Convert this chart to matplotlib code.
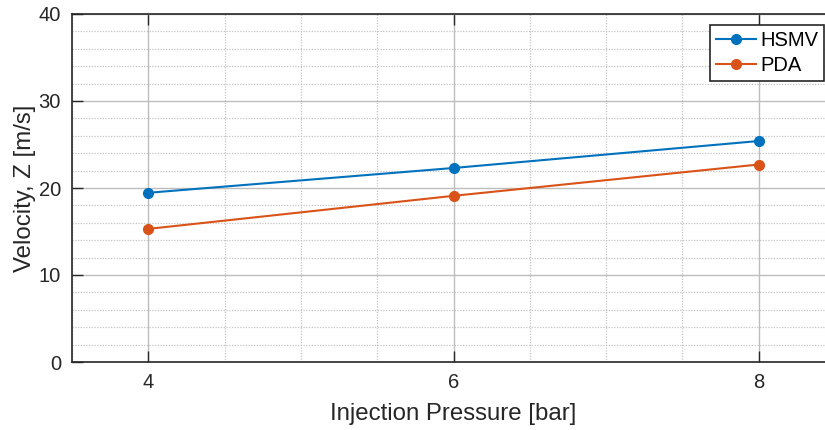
import matplotlib
matplotlib.use("Agg")
import matplotlib.pyplot as plt
from matplotlib.ticker import MultipleLocator

pressure = [4, 6, 8]
hsmv = [19.45, 22.3, 25.4]
pda = [15.3, 19.1, 22.7]
xticks = [4, 6, 8]
yticks = [0, 10, 20, 30, 40]

plt.rcParams['font.family'] = ['Liberation Sans', 'DejaVu Sans']

W, H = 825, 430
fig = plt.figure(figsize=(W / 100, H / 100), dpi=100)
left, right, top, bottom = 72, 835, 14, 362
ax = fig.add_axes([left / W, 1 - bottom / H, (right - left) / W, (bottom - top) / H])

blue = '#0072BD'
orange = '#D95319'
ax.plot(pressure, hsmv, '-o', color=blue, lw=1.5, ms=7, label='HSMV', zorder=3)
ax.plot(pressure, pda, '-o', color=orange, lw=1.5, ms=7, label='PDA', zorder=3)

ax.set_xlim(3.5, 8.5)
ax.set_ylim(0, 40)
ax.set_xticks(xticks)
ax.set_yticks(yticks)
ax.xaxis.set_minor_locator(MultipleLocator(0.5))
ax.yaxis.set_minor_locator(MultipleLocator(2))

ax.grid(True, which='major', color='#bdbdbd', lw=1.0, ls='-', zorder=0)
ax.grid(True, which='minor', color='#c4c4c4', lw=0.9, ls=(0, (1, 1.2)), zorder=0)
ax.set_axisbelow(True)

ax.tick_params(which='major', direction='in', length=8, width=1.0, color='#262626',
               labelsize=14.5, labelcolor='#262626', top=True, right=False, pad=8)
ax.tick_params(which='minor', length=0)
for s in ax.spines.values():
    s.set_color('#262626')
    s.set_linewidth(1.2)

ax.set_xlabel('Injection Pressure [bar]', fontsize=17.3, color='#262626', labelpad=8)
ax.set_ylabel('Velocity, Z [m/s]', fontsize=17.3, color='#262626', labelpad=2)

leg = fig.legend(loc='upper right', bbox_to_anchor=(824 / W, 1 - 25 / H),
                 fontsize=14.5, frameon=True, fancybox=False, framealpha=1,
                 edgecolor='#262626', borderpad=0.3, handlelength=2.0,
                 handletextpad=0.2, labelspacing=0.3, borderaxespad=0)
leg.get_frame().set_linewidth(1.2)

fig.savefig('out.png', dpi=100)
